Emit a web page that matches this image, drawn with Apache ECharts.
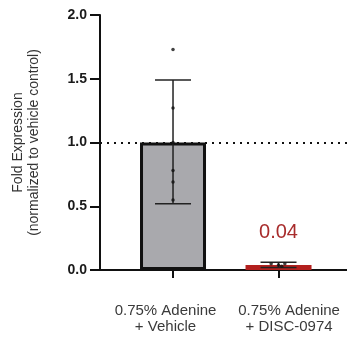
<!DOCTYPE html>
<html>
<head>
<meta charset="utf-8">
<script src="https://cdn.jsdelivr.net/npm/echarts@6/dist/echarts.min.js"></script>
<style>
  html, body { margin: 0; padding: 0; background: #fff; }
  #chart { width: 347px; height: 341px; }
</style>
</head>
<body>
<div id="chart"></div>
<script>
// data
const categories = ['0.75% Adenine\n+ Vehicle', '0.75% Adenine\n+ DISC-0974'];
const means = [1.0, 0.04];
const errUpper = [1.49, 0.06];
const errLower = [0.52, 0.02];
const vehiclePoints = [1.73, 1.27, 1.0, 0.78, 0.69, 0.55];
const discPoints = [0.05, 0.04, 0.03, 0.05];
const discPointX = [0.93, 1.0, 1.03, 1.06];
// category labels sit a little off their ticks in the original
const labelPos = [-0.071, 1.1];

const font = 'Liberation Sans, Arial, sans-serif';
const chart = echarts.init(document.getElementById('chart'));

const barData = means.map((v, i) => ({
    value: [i, v],
    itemStyle: i === 0
        ? { color: '#a9a9ad', borderColor: '#111', borderWidth: 3 }
        : { color: '#b3201e', borderColor: '#b3201e', borderWidth: 3 },
    label: i === 0 ? { show: false } : {
        show: true,
        position: 'top',
        distance: 22,
        formatter: () => means[i].toFixed(2),
        color: '#a82c2c',
        fontSize: 20,
        fontFamily: font
    }
}));

const errData = means.map((v, i) => [i, errLower[i], errUpper[i]]);

const pointData = vehiclePoints.map(v => [0, v])
    .concat(discPoints.map((v, i) => [discPointX[i], v]));

const option = {
    animation: false,
    grid: { left: 100, right: 0, top: 15, bottom: 71 },
    xAxis: {
        type: 'value',
        min: -0.692,
        max: 1.649,
        splitLine: { show: false },
        axisLine: { show: true, onZero: false, lineStyle: { color: '#111', width: 2 } },
        axisTick: { show: true, customValues: [0, 1], length: 8, lineStyle: { color: '#111', width: 2 } },
        axisLabel: {
            customValues: labelPos,
            formatter: v => categories[v < 0.5 ? 0 : 1],
            margin: 33,
            fontSize: 15,
            lineHeight: 16,
            color: '#3a3a3a',
            fontFamily: font
        }
    },
    yAxis: {
        type: 'value',
        min: 0,
        max: 2,
        interval: 0.5,
        splitLine: { show: false },
        name: 'Fold Expression\n(normalized to vehicle control)',
        nameLocation: 'middle',
        nameGap: 58,
        nameTextStyle: { fontSize: 14, lineHeight: 16, color: '#333', fontFamily: font },
        axisLine: { show: true, onZero: false, lineStyle: { color: '#111', width: 2 } },
        axisTick: { show: true, length: 10, lineStyle: { color: '#111', width: 2 } },
        axisLabel: {
            margin: 13,
            formatter: v => v.toFixed(1),
            fontSize: 14,
            fontWeight: 'bold',
            color: '#1a1a1a',
            fontFamily: font
        }
    },
    series: [
        {
            type: 'bar',
            barWidth: 66,
            data: barData,
            z: 2,
            markLine: {
                silent: true,
                symbol: 'none',
                label: { show: false },
                lineStyle: { color: '#111', width: 2, type: [2, 5] },
                data: [{ yAxis: 1 }]
            }
        },
        {
            type: 'custom',
            z: 4,
            data: errData,
            renderItem: (params, api) => {
                const x = api.value(0);
                const lo = api.coord([x, api.value(1)]);
                const hi = api.coord([x, api.value(2)]);
                const half = 18;
                const style = { stroke: '#222', lineWidth: 1.5 };
                return {
                    type: 'group',
                    children: [
                        { type: 'line', shape: { x1: hi[0], y1: hi[1], x2: lo[0], y2: lo[1] }, style },
                        { type: 'line', shape: { x1: hi[0] - half, y1: hi[1], x2: hi[0] + half, y2: hi[1] }, style },
                        { type: 'line', shape: { x1: lo[0] - half, y1: lo[1], x2: lo[0] + half, y2: lo[1] }, style }
                    ]
                };
            }
        },
        {
            type: 'scatter',
            z: 5,
            symbolSize: 3.5,
            itemStyle: { color: '#111' },
            data: pointData
        }
    ]
};

chart.setOption(option);
</script>
</body>
</html>
